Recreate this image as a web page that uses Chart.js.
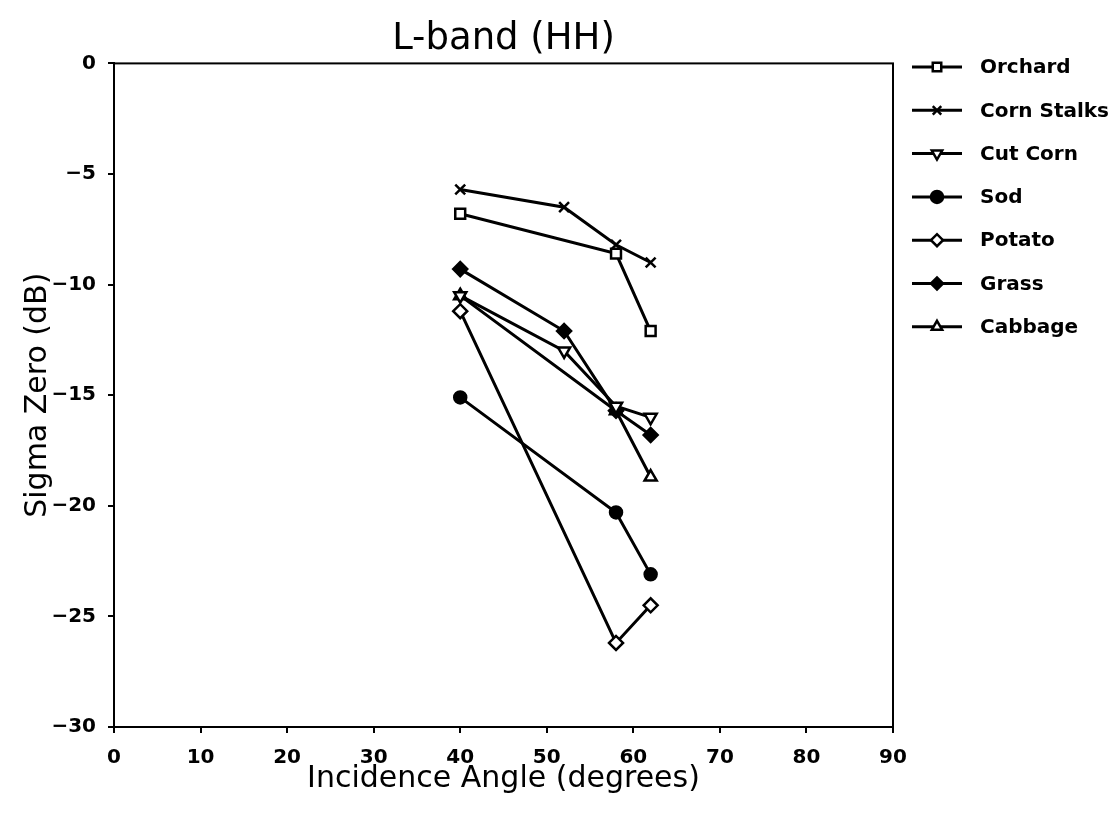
<!DOCTYPE html>
<html>
<head>
<meta charset="utf-8">
<script src="https://cdn.jsdelivr.net/npm/chart.js@4/dist/chart.umd.min.js"></script>
<style>
body { margin: 0; background: #fff; }
#wrap { width: 1116px; height: 819px; }
</style>
</head>
<body>
<div id="wrap"><canvas id="myChart"></canvas></div>
<script>
var seriesNames = ['Orchard', 'Corn Stalks', 'Cut Corn', 'Sod', 'Potato', 'Grass', 'Cabbage'];

var orchardX = [40, 58, 62];
var orchardY = [-6.8, -8.6, -12.1];
var cornStalksX = [40, 52, 58, 62];
var cornStalksY = [-5.7, -6.5, -8.2, -9.0];
var cutCornX = [40, 52, 58, 62];
var cutCornY = [-10.5, -13.0, -15.5, -16.0];
var sodX = [40, 58, 62];
var sodY = [-15.1, -20.3, -23.1];
var potatoX = [40, 58, 62];
var potatoY = [-11.2, -26.2, -24.5];
var grassX = [40, 52, 58, 62];
var grassY = [-9.3, -12.1, -15.7, -16.8];
var cabbageX = [40, 58, 62];
var cabbageY = [-10.5, -15.7, -18.7];

var xTicks = [0, 10, 20, 30, 40, 50, 60, 70, 80, 90];
var yTicks = [-30, -25, -20, -15, -10, -5, 0];

// marker look per series
var markerStyle = [
	{ style: 'rect', fill: '#fff', rot: 0, r: 7 },
	{ style: 'crossRot', fill: '#000', rot: 0, r: 7 },
	{ style: 'triangle', fill: '#fff', rot: 180, r: 7 },
	{ style: 'circle', fill: '#000', rot: 0, r: 6 },
	{ style: 'rectRot', fill: '#fff', rot: 0, r: 7 },
	{ style: 'rectRot', fill: '#000', rot: 0, r: 7 },
	{ style: 'triangle', fill: '#fff', rot: 0, r: 7 }
];

function toPoints(xs, ys) {
	var pts = new Array();
	for (var i = 0; i < xs.length; i++) {
		pts.push({ x: xs[i], y: ys[i] });
	}
	return pts;
}

var allPoints = [
	toPoints(orchardX, orchardY),
	toPoints(cornStalksX, cornStalksY),
	toPoints(cutCornX, cutCornY),
	toPoints(sodX, sodY),
	toPoints(potatoX, potatoY),
	toPoints(grassX, grassY),
	toPoints(cabbageX, cabbageY)
];

var datasets = new Array();
for (var i = 0; i < seriesNames.length; i++) {
	var m = markerStyle[i];
	datasets.push({
		label: seriesNames[i],
		data: allPoints[i],
		showLine: true,
		borderColor: '#000',
		borderWidth: 3,
		pointStyle: m.style,
		pointRotation: m.rot,
		pointRadius: m.r,
		pointBorderWidth: 2.5,
		pointBorderColor: '#000',
		pointBackgroundColor: m.fill
	});
}

// box round the plot area
var framePlugin = {
	id: 'frame',
	afterDatasetsDraw: function(chart) {
		var a = chart.chartArea;
		var ctx = chart.ctx;
		ctx.save();
		ctx.strokeStyle = '#000';
		ctx.lineWidth = 2;
		ctx.strokeRect(a.left, a.top, a.right - a.left, a.bottom - a.top);
		ctx.restore();
	}
};

// legend on the right: short line with the marker in the middle
var sideLegend = {
	id: 'sideLegend',
	afterDraw: function(chart) {
		var ctx = chart.ctx;
		ctx.save();
		for (var i = 0; i < chart.data.datasets.length; i++) {
			var ds = chart.data.datasets[i];
			var y = 67 + i * 43.3;
			ctx.strokeStyle = '#000';
			ctx.lineWidth = 3;
			ctx.beginPath();
			ctx.moveTo(912, y);
			ctx.lineTo(962, y);
			ctx.stroke();
			ctx.fillStyle = ds.pointBackgroundColor;
			ctx.lineWidth = 2.5;
			Chart.helpers.drawPoint(ctx, {
				pointStyle: ds.pointStyle,
				rotation: ds.pointRotation,
				radius: 6,
				borderWidth: 2.5
			}, 937, y);
			ctx.fillStyle = '#000';
			ctx.font = 'bold 20px "DejaVu Sans"';
			ctx.textBaseline = 'middle';
			ctx.textAlign = 'left';
			ctx.fillText(ds.label, 980, y + 1);
		}
		ctx.restore();
	}
};

function minusLabel(value) {
	return String(value).replace('-', '\u2212');
}

Chart.defaults.font.family = '"DejaVu Sans"';
Chart.defaults.color = '#000';

var config = {
	type: 'scatter',
	data: { datasets: datasets },
	options: {
		responsive: true,
		maintainAspectRatio: false,
		animation: false,
		layout: { padding: { left: 0, right: 223, top: 0, bottom: 0 } },
		plugins: {
			legend: { display: false },
			tooltip: { enabled: false },
			title: {
				display: true,
				text: 'L-band (HH)',
				fullSize: false,
				font: { size: 37, weight: 'normal' },
				padding: { top: 17, bottom: 2 }
			}
		},
		scales: {
			x: {
				type: 'linear',
				min: 0,
				max: 90,
				afterBuildTicks: function(scale) {
					scale.ticks = xTicks.map(function(v) { return { value: v }; });
				},
				afterFit: function(scale) { scale.height = 92; },
				grid: { drawOnChartArea: false, color: '#000', tickLength: 6, lineWidth: 2 },
				border: { color: '#000', width: 2 },
				ticks: { font: { size: 20, weight: 'bold' }, padding: 13, maxRotation: 0, callback: minusLabel },
				title: {
					display: true,
					text: 'Incidence Angle (degrees)',
					font: { size: 30 },
					padding: { top: 22, bottom: 22 }
				}
			},
			y: {
				type: 'linear',
				min: -30,
				max: 0,
				afterBuildTicks: function(scale) {
					scale.ticks = yTicks.map(function(v) { return { value: v }; });
				},
				afterFit: function(scale) { scale.width = 114; },
				grid: { drawOnChartArea: false, color: '#000', tickLength: 6, lineWidth: 2 },
				border: { color: '#000', width: 2 },
				ticks: { font: { size: 20, weight: 'bold' }, padding: 12, callback: minusLabel },
				title: {
					display: true,
					text: 'Sigma Zero (dB)',
					font: { size: 30 },
					padding: { top: 20, bottom: 20 }
				}
			}
		}
	},
	plugins: [framePlugin, sideLegend]
};

window.lband_chart = new Chart(document.getElementById('myChart'), config);
</script>
</body>
</html>
